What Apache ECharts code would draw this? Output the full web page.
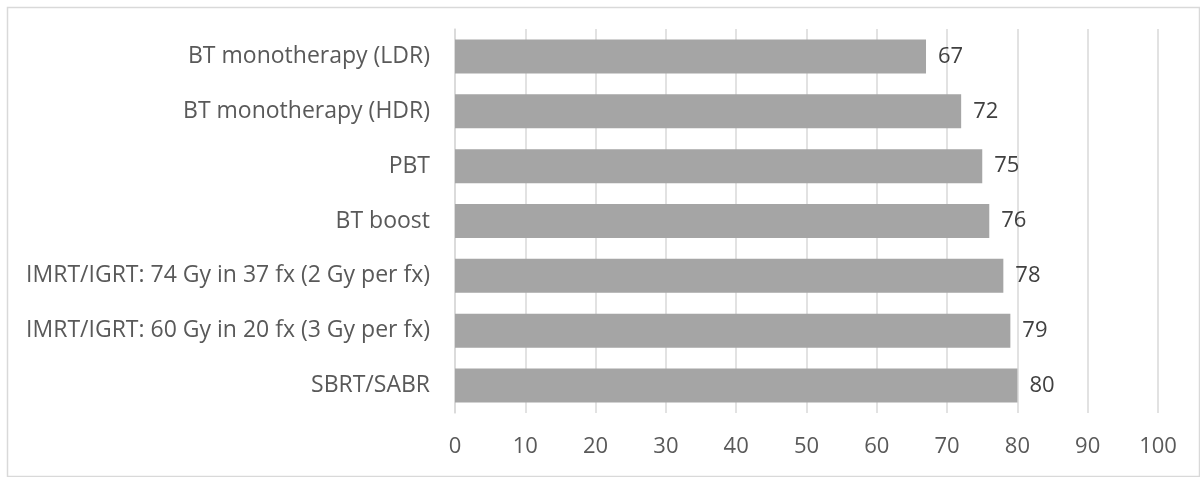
<!DOCTYPE html>
<html><head><meta charset="utf-8">
<script src="https://cdn.jsdelivr.net/npm/echarts@6/dist/echarts.min.js"></script>
<style>html,body{margin:0;padding:0;background:#fff}#c{width:1200px;height:477px}</style>
</head><body><div id="c"></div>
<script>
const categories = [
  "BT monotherapy (LDR)",
  "BT monotherapy (HDR)",
  "PBT",
  "BT boost",
  "IMRT/IGRT: 74 Gy in 37 fx (2 Gy per fx)",
  "IMRT/IGRT: 60 Gy in 20 fx (3 Gy per fx)",
  "SBRT/SABR"
];
const values = [67, 72, 75, 76, 78, 79, 80];
const axisMin = 0, axisMax = 100, axisStep = 10;

const chart = echarts.init(document.getElementById('c'), null, {renderer: 'canvas'});
const font = '"Open Sans", "Noto Sans", sans-serif';
chart.setOption({
  animation: false,
  backgroundColor: '#fff',
  graphic: [{
    type: 'rect', left: 5, top: 5, z: -1,
    shape: {width: 1192, height: 469},
    style: {fill: 'none', stroke: '#d9d9d9', lineWidth: 1.5}
  }],
  grid: {left: 455, right: 42, top: 29, bottom: 64, containLabel: false},
  xAxis: {
    type: 'value', min: axisMin, max: axisMax, interval: axisStep,
    axisLine: {show: false}, axisTick: {show: false},
    splitLine: {show: true, lineStyle: {color: '#d9d9d9', width: 1.5}},
    axisLabel: {color: '#595959', fontSize: 22, fontFamily: font, margin: 23}
  },
  yAxis: {
    type: 'category', data: categories, inverse: true,
    axisLine: {show: true, lineStyle: {color: '#d9d9d9', width: 1.5}},
    axisTick: {show: false},
    axisLabel: {color: '#595959', fontSize: 23, fontFamily: font, margin: 25}
  },
  series: [{
    type: 'bar', data: values, barCategoryGap: '38%',
    itemStyle: {color: '#a5a5a5'},
    label: {show: true, position: 'right', distance: 12, color: '#404040', fontSize: 22, fontFamily: font}
  }]
});
</script></body></html>
